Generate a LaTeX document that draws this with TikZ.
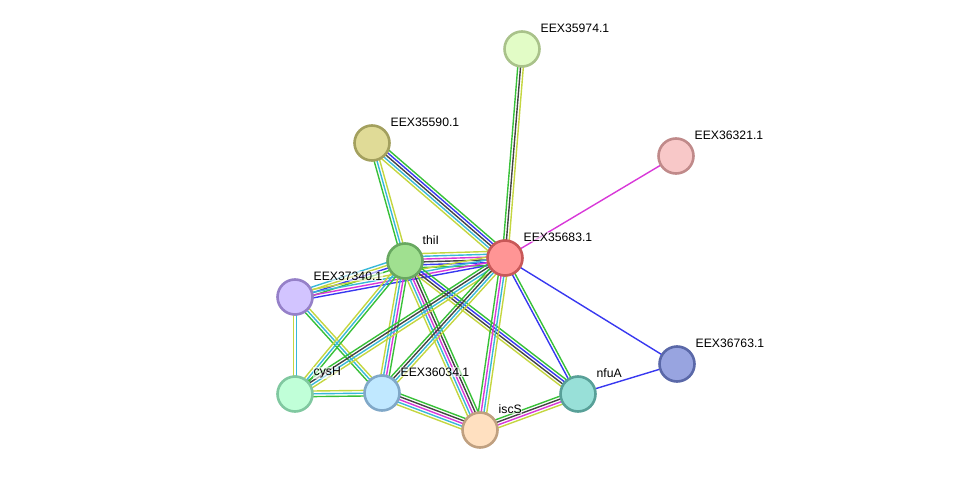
\documentclass[tikz,border=0pt]{standalone}
\usepackage{fontspec}
\setmainfont{Liberation Sans}
\usepackage{tikz}
\usetikzlibrary{calc,backgrounds}
\definecolor{EvGreen}{HTML}{38C038}
\definecolor{EvBlue}{HTML}{3838F0}
\definecolor{EvBlack}{HTML}{444444}
\definecolor{EvMagenta}{HTML}{D838D8}
\definecolor{EvCyan}{HTML}{38B8D8}
\definecolor{EvYellow}{HTML}{C4D640}
\tikzset{
  protein/.style={circle, line width=2.6pt, minimum size=35pt, inner sep=0pt},
  plabel/.style={anchor=west, inner sep=0.5pt, fill=white, fill opacity=0.6, text opacity=1, font=\fontsize{12.2}{14}\selectfont},
  evline/.style={line width=1.4pt}
}
% one edge = a bundle of parallel coloured lines
\newcommand\netedge[3]{%
  \foreach \c [count=\k] in {#3} {\xdef\ncol{\k}}%
  \foreach \c [count=\i] in {#3} {%
    \pgfmathsetmacro\off{(\i-(\ncol+1)/2)*2.8}%
    \draw[evline, \c] ($(#1)!\off pt!90:(#2)$) -- ($(#2)!\off pt!-90:(#1)$);
  }%
}
\begin{document}
\begin{tikzpicture}[x=1pt, y=-1pt]
\useasboundingbox (0,0) rectangle (976,476);
% proteins
\node[protein, draw={rgb,255:red,169;green,194;blue,138}, fill={rgb,255:red,226;green,252;blue,198}] (n35974) at (522,49) {};
\node[protein, draw={rgb,255:red,163;green,160;blue,94}, fill={rgb,255:red,224;green,219;blue,151}] (n35590) at (372,143) {};
\node[protein, draw={rgb,255:red,192;green,138;blue,138}, fill={rgb,255:red,248;green,200;blue,200}] (n36321) at (676,156) {};
\node[protein, draw={rgb,255:red,104;green,168;blue,96}, fill={rgb,255:red,160;green,224;blue,144}] (thiI) at (405,261) {};
\node[protein, draw={rgb,255:red,200;green,88;blue,88}, fill={rgb,255:red,255;green,149;blue,149}] (n35683) at (505,258) {};
\node[protein, draw={rgb,255:red,149;green,128;blue,200}, fill={rgb,255:red,210;green,196;blue,255}] (n37340) at (295,297) {};
\node[protein, draw={rgb,255:red,90;green,104;blue,168}, fill={rgb,255:red,152;green,164;blue,224}] (n36763) at (677,364) {};
\node[protein, draw={rgb,255:red,128;green,200;blue,160}, fill={rgb,255:red,192;green,255;blue,216}] (cysH) at (295,394) {};
\node[protein, draw={rgb,255:red,128;green,168;blue,200}, fill={rgb,255:red,192;green,232;blue,255}] (n36034) at (382,393) {};
\node[protein, draw={rgb,255:red,192;green,160;blue,128}, fill={rgb,255:red,255;green,224;blue,192}] (iscS) at (480,430) {};
\node[protein, draw={rgb,255:red,88;green,160;blue,152}, fill={rgb,255:red,152;green,224;blue,216}] (nfuA) at (578,394) {};
% labels
\node[plabel] (l35974) at ($(n35974)+(18,-21)$) {EEX35974.1};
\node[plabel] (l35590) at ($(n35590)+(18,-21)$) {EEX35590.1};
\node[plabel] (l36321) at ($(n36321)+(18,-21)$) {EEX36321.1};
\node[plabel] (lthiI) at ($(thiI)+(17,-21)$) {thiI};
\node[plabel] (l35683) at ($(n35683)+(18,-21)$) {EEX35683.1};
\node[plabel] (l37340) at ($(n37340)+(18,-21)$) {EEX37340.1};
\node[plabel] (l36763) at ($(n36763)+(18,-21)$) {EEX36763.1};
\node[plabel] (lcysH) at ($(cysH)+(18,-21)$) {cysH};
\node[plabel] (l36034) at ($(n36034)+(18,-21)$) {EEX36034.1};
\node[plabel] (liscS) at ($(iscS)+(18,-21)$) {iscS};
\node[plabel] (lnfuA) at ($(nfuA)+(18,-21)$) {nfuA};
% evidence edges
\begin{scope}[on background layer]
\netedge{n35683}{n35974}{EvYellow,EvBlack,EvGreen}
\netedge{n35683}{n36321}{EvMagenta}
\netedge{n35683}{n36763}{EvBlue}
\netedge{n36763}{nfuA}{EvBlue}
\netedge{n35683}{nfuA}{EvBlue,EvGreen}
\netedge{n35590}{n35683}{EvYellow,EvCyan,EvBlack,EvBlue,EvGreen}
\netedge{n35590}{thiI}{EvGreen,EvCyan,EvYellow}
\netedge{thiI}{n35683}{EvGreen,EvBlue,EvBlack,EvMagenta,EvCyan,EvYellow}
\netedge{n37340}{thiI}{EvGreen,EvBlue,EvYellow,EvCyan}
\netedge{n37340}{n35683}{EvBlue,EvMagenta,EvCyan,EvYellow}
\netedge{n37340}{cysH}{EvYellow,EvCyan}
\netedge{n37340}{n36034}{EvGreen,EvCyan,EvYellow}
\netedge{thiI}{cysH}{EvYellow,EvCyan,EvGreen}
\netedge{thiI}{n36034}{EvYellow,EvCyan,EvMagenta,EvGreen}
\netedge{thiI}{iscS}{EvYellow,EvCyan,EvMagenta,EvBlack,EvGreen}
\netedge{thiI}{nfuA}{EvYellow,EvBlack,EvBlue,EvGreen}
\netedge{n35683}{cysH}{EvGreen,EvBlack,EvCyan,EvYellow}
\netedge{n35683}{n36034}{EvGreen,EvBlack,EvCyan,EvYellow}
\netedge{n35683}{iscS}{EvGreen,EvMagenta,EvCyan,EvYellow}
\netedge{cysH}{n36034}{EvGreen,EvCyan,EvYellow}
\netedge{n36034}{iscS}{EvYellow,EvCyan,EvMagenta,EvBlack,EvGreen}
\netedge{iscS}{nfuA}{EvYellow,EvMagenta,EvBlack,EvGreen}
\end{scope}
\end{tikzpicture}
\end{document}
